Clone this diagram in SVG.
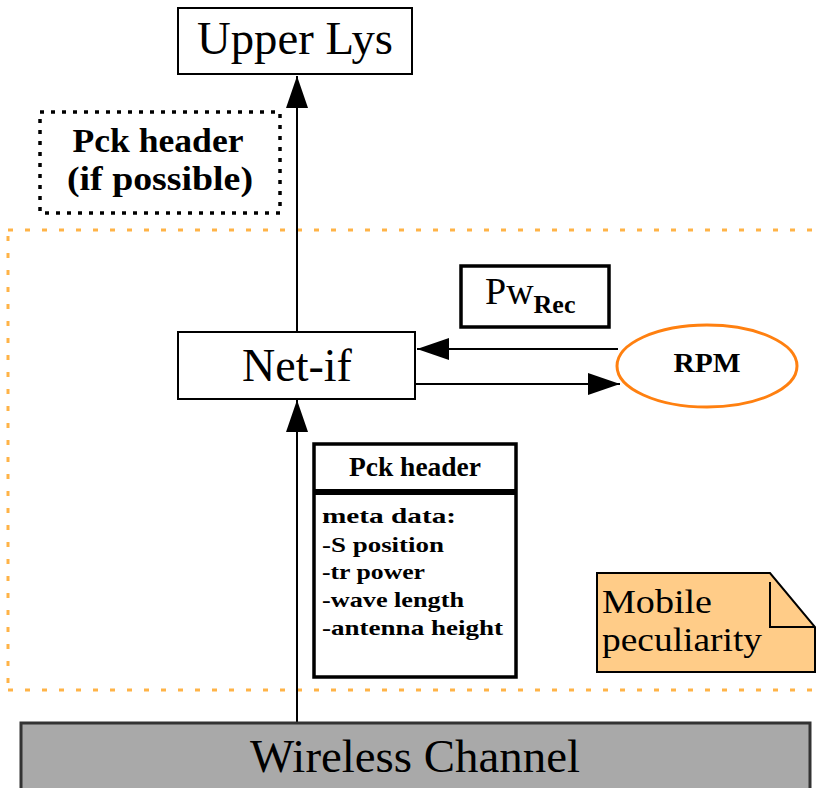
<svg xmlns="http://www.w3.org/2000/svg" width="819" height="788" viewBox="0 0 819 788">
<style>
.box{fill:#fff;stroke:#000;stroke-width:2}
.thick{fill:#fff;stroke:#000;stroke-width:3.5}
.big{font-family:"Liberation Serif",serif;font-size:46px;fill:#000;text-anchor:middle}
.bold{font-family:"Liberation Serif",serif;font-weight:bold;fill:#000}
.meta{font-family:"Liberation Serif",serif;font-weight:bold;font-size:22px;fill:#000}
.conn{stroke:#000;stroke-width:2;fill:none}
.region{stroke:#FFB347;stroke-width:3;fill:none;stroke-dasharray:5 12}
</style>
<defs>
<marker id="arr" viewBox="0 0 32 22" refX="32" refY="11" markerWidth="32" markerHeight="22" markerUnits="userSpaceOnUse" orient="auto">
<path d="M0,0 L32,11 L0,22 Z" fill="#000"/>
</marker>
</defs>
<rect width="819" height="788" fill="#fff"/>

<g id="region">
<path class="region" d="M8,230 H819"/>
<path class="region" d="M8,690 H819"/>
<path class="region" d="M8,236 V686" stroke-dasharray="6 11"/>
</g>

<g id="connectors">
<line class="conn" x1="297" y1="332" x2="297" y2="76" marker-end="url(#arr)"/>
<line class="conn" x1="297" y1="723" x2="297" y2="400" marker-end="url(#arr)"/>
<line class="conn" x1="618" y1="349" x2="417" y2="349" marker-end="url(#arr)"/>
<line class="conn" x1="415" y1="384" x2="620" y2="384" marker-end="url(#arr)"/>
</g>

<g id="upper-lys">
<rect class="box" x="178" y="8" width="234" height="66"/>
<text class="big" x="295" y="54" textLength="196" lengthAdjust="spacingAndGlyphs">Upper Lys</text>
</g>

<g id="pck-header-optional">
<rect x="40" y="112" width="240" height="101" fill="none" stroke="#000" stroke-width="3.5" stroke-dasharray="4 7"/>
<text class="bold" x="158" y="152" font-size="33" text-anchor="middle" textLength="171" lengthAdjust="spacingAndGlyphs">Pck header</text>
<text class="bold" x="160" y="190" font-size="33" text-anchor="middle" textLength="186" lengthAdjust="spacingAndGlyphs">(if possible)</text>
</g>

<g id="pwrec">
<rect class="thick" x="461" y="266" width="148" height="61"/>
<text x="485" y="304" font-family="'Liberation Serif',serif" font-size="38" fill="#000">Pw<tspan font-weight="bold" font-size="26" dy="9">Rec</tspan></text>
</g>

<g id="net-if">
<rect class="box" x="178" y="332" width="237" height="67"/>
<text class="big" x="297" y="381">Net-if</text>
</g>

<g id="rpm">
<ellipse cx="707" cy="366" rx="90" ry="41" fill="#fff" stroke="#FF8010" stroke-width="3"/>
<text class="bold" x="707" y="372" font-size="27" text-anchor="middle" textLength="67" lengthAdjust="spacingAndGlyphs">RPM</text>
</g>

<g id="pck-header">
<rect class="thick" x="314" y="444" width="202" height="233"/>
<line x1="314" y1="492" x2="516" y2="492" stroke="#000" stroke-width="6"/>
<text class="bold" x="415" y="476" font-size="27" text-anchor="middle" textLength="132" lengthAdjust="spacingAndGlyphs">Pck header</text>
<text class="meta" x="322" y="523" textLength="134" lengthAdjust="spacingAndGlyphs">meta data:</text>
<text class="meta" x="322" y="552" textLength="122" lengthAdjust="spacingAndGlyphs">-S position</text>
<text class="meta" x="322" y="579" textLength="103" lengthAdjust="spacingAndGlyphs">-tr power</text>
<text class="meta" x="322" y="607" textLength="142" lengthAdjust="spacingAndGlyphs">-wave length</text>
<text class="meta" x="322" y="635" textLength="181" lengthAdjust="spacingAndGlyphs">-antenna height</text>
</g>

<g id="mobile-note">
<path d="M597,573 H770 L815,627 V672 H597 Z" fill="#FFCC88" stroke="#000" stroke-width="2"/>
<path d="M770,582 V627 H815" fill="none" stroke="#000" stroke-width="2"/>
<text x="602" y="613" font-family="'Liberation Serif',serif" font-size="34" fill="#000" textLength="110" lengthAdjust="spacingAndGlyphs">Mobile</text>
<text x="602" y="651" font-family="'Liberation Serif',serif" font-size="34" fill="#000" textLength="160" lengthAdjust="spacingAndGlyphs">peculiarity</text>
</g>

<g id="wireless-channel">
<rect x="21" y="723" width="789" height="80" fill="#A9A9A9" stroke="#333" stroke-width="3"/>
<text class="big" x="415" y="772" font-size="47" textLength="330" lengthAdjust="spacingAndGlyphs">Wireless Channel</text>
</g>
</svg>
